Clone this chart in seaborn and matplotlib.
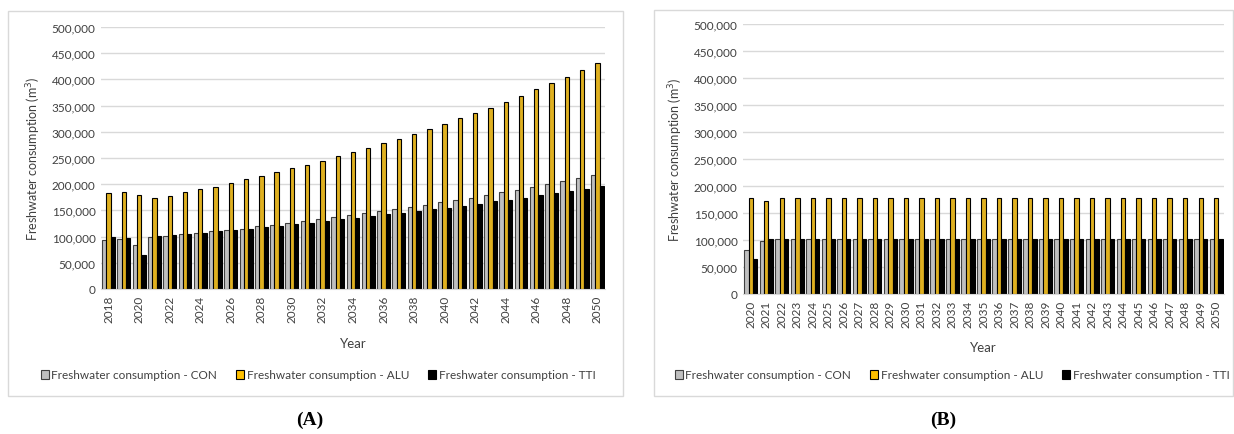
import numpy as np
import pandas as pd
import seaborn as sns
import matplotlib.pyplot as plt
from matplotlib.patches import Rectangle
from matplotlib.ticker import FuncFormatter

# Panel A: 2018-2050
years_a = list(range(2018, 2051))
con_a = [93600, 95500, 83400, 98700, 101000, 104500, 106400, 110000, 112700, 115300,
         119700, 123000, 125500, 130000, 133000, 137000, 140800, 144600, 149000, 152900,
         156700, 160500, 165600, 170000, 174500, 179600, 184700, 189800, 195000, 200000,
         205700, 211500, 217200]
alu_a = [182800, 184700, 179600, 173000, 178000, 184700, 190400, 195000, 202500, 209000,
         215000, 223000, 230000, 237000, 244600, 252900, 260500, 268800, 277700, 286600,
         295500, 305000, 314600, 325500, 335700, 345900, 356700, 368800, 380900, 392400,
         405000, 418500, 431800]
tti_a = [100000, 98000, 65000, 100600, 102500, 105000, 107000, 110000, 112700, 115300,
         117800, 120400, 123600, 126800, 129000, 133000, 135700, 138900, 142700, 145200,
         149000, 152200, 155400, 159200, 163000, 167500, 170700, 174500, 179000, 183400,
         187300, 191700, 196800]

# Panel B: 2020-2050
years_b = list(range(2020, 2051))
con_b = [82000, 97500] + [101000] * 29
alu_b = [177800, 171600] + [177500] * 29
tti_b = [64800, 101000] + [102500] * 29

series_names = ["Freshwater consumption - CON",
                "Freshwater consumption - ALU",
                "Freshwater consumption - TTI"]
fills = ["#bfbfbf", "#ffc000", "#000000"]
edges = ["#404040", "#000000", "#000000"]

plt.rcParams["font.family"] = ["Lato", "DejaVu Sans"]

W, H = 1234, 435
fig = plt.figure(figsize=(W / 100, H / 100), dpi=100)


def make_df(years, con, alu, tti):
    frames = []
    for name, vals in zip(series_names, [con, alu, tti]):
        frames.append(pd.DataFrame({"Year": [str(y) for y in years], "value": vals, "series": name}))
    return pd.concat(frames, ignore_index=True)


def draw_panel(rect, years, con, alu, tti, every, box, letter, letter_x, legend_x, xlabel_y):
    l, t, r, b = rect
    ax = fig.add_axes([l / W, 1 - b / H, (r - l) / W, (b - t) / H])
    df = make_df(years, con, alu, tti)
    sns.barplot(data=df, x="Year", y="value", hue="series", palette=fills,
                width=0.85, ax=ax, legend=False, linewidth=0.8)
    for cont, ec in zip(ax.containers, edges):
        for p in cont:
            p.set_edgecolor(ec)
            p.set_linewidth(0.8)
    ax.set_ylim(0, 500000)
    ax.set_yticks(np.arange(0, 500001, 50000))
    ax.yaxis.set_major_formatter(FuncFormatter(lambda v, _: f"{int(v):,}"))
    ax.set_xlim(-0.5, len(years) - 0.5)
    ticks = list(range(0, len(years), every))
    ax.set_xticks(ticks)
    ax.set_xticklabels([str(years[i]) for i in ticks], rotation=90)
    ax.tick_params(axis="both", length=0, labelsize=8.5, colors="#404040", pad=4)
    ax.grid(axis="y", color="#d9d9d9", linewidth=1)
    ax.set_axisbelow(True)
    for s in ["top", "right", "left"]:
        ax.spines[s].set_visible(False)
    ax.spines["bottom"].set_color("#d9d9d9")
    ax.set_xlabel("Year", fontsize=9.5, color="#404040")
    ax.xaxis.set_label_coords(0.5, 1 - (xlabel_y - 7 - t) / (b - t), transform=ax.transAxes)
    ax.set_ylabel("Freshwater consumption (m$^3$)", fontsize=9, color="#404040", labelpad=6)
    handles = [Rectangle((0, 0), 1, 1, facecolor=f, edgecolor=e, linewidth=0.8)
               for f, e in zip(fills, edges)]
    fig.legend(handles, series_names, loc="center", bbox_to_anchor=(legend_x / W, 1 - 376 / H),
               ncol=3, frameon=False, fontsize=8.5, handlelength=0.7, handleheight=0.7,
               handletextpad=0.2, columnspacing=1.6, labelcolor="#404040")
    bx0, by0, bx1, by1 = box
    fig.patches.append(Rectangle((bx0 / W, 1 - by1 / H), (bx1 - bx0) / W, (by1 - by0) / H,
                                 transform=fig.transFigure, fill=False,
                                 edgecolor="#d9d9d9", linewidth=1))
    fig.text(letter_x / W, 1 - 420 / H, letter, ha="center", va="center",
             fontfamily="Liberation Serif", fontweight="bold", fontsize=14)
    return ax


draw_panel((101, 28, 605, 290), years_a, con_a, alu_a, tti_a, 2, (8, 12, 623, 397),
           "(A)", 310, 318, 345)
draw_panel((743, 25, 1224, 295), years_b, con_b, alu_b, tti_b, 1, (654, 11, 1233, 397),
           "(B)", 943, 952, 349)

fig.savefig("out.png", dpi=100)
